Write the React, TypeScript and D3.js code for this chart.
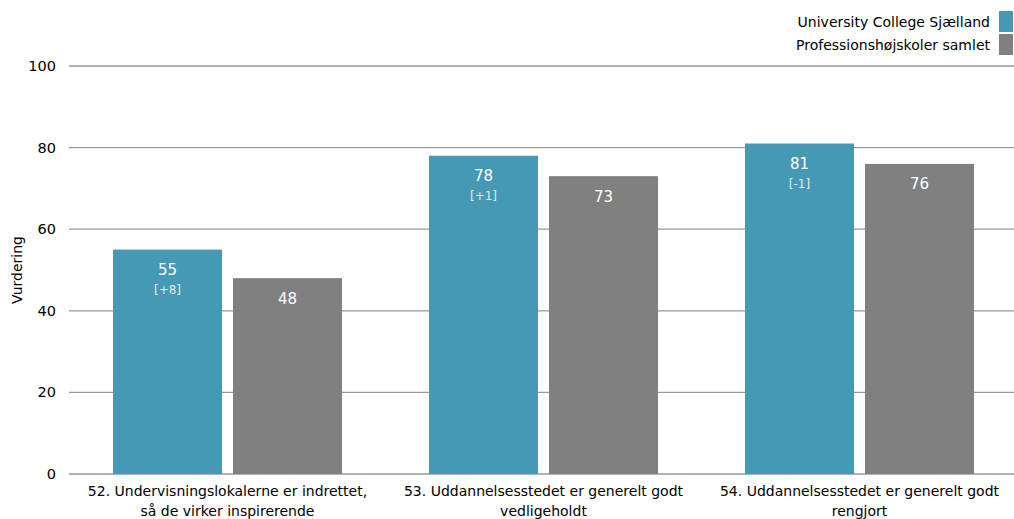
import React from "react";
import * as d3 from "d3";

const categories = [
  ["52. Undervisningslokalerne er indrettet,", "så de virker inspirerende"],
  ["53. Uddannelsesstedet er generelt godt", "vedligeholdt"],
  ["54. Uddannelsesstedet er generelt godt", "rengjort"],
];
const seriesNames = ["University College Sjælland", "Professionshøjskoler samlet"];
const ucsValues = [55, 78, 81];
const ucsDiffs = ["[+8]", "[+1]", "[-1]"];
const totalValues = [48, 73, 76];
const yTicks = [0, 20, 40, 60, 80, 100];
const colors = ["#4599B5", "#808080"];

const W = 1014;
const H = 519;
const FONT = "'DejaVu Sans', Verdana, sans-serif";

export default function App() {
  const x = d3.scaleBand<number>().domain([0, 1, 2]).range([69.5, 1017.5]);
  const y = d3.scaleLinear().domain([0, 100]).range([474, 66]);
  const barW = 109;
  const gap = 11;

  return (
    <svg width={W} height={H} style={{ position: "absolute", left: 0, top: 0, fontFamily: FONT }}>
      {yTicks.map((t) => (
        <g key={t}>
          <line x1={69} x2={W} y1={y(t)} y2={y(t)} stroke="#9a9a9a" strokeWidth={1.3} />
          <text x={56} y={y(t)} dy="0.35em" textAnchor="end" fontSize={14.5} fill="#000">
            {t}
          </text>
        </g>
      ))}
      <text transform={`translate(22,${y(50)}) rotate(-90)`} textAnchor="middle" fontSize={14} fill="#000">
        Vurdering
      </text>
      {categories.map((c, i) => {
        const cx = (x(i) as number) + x.bandwidth() / 2;
        const bx0 = cx - gap / 2 - barW;
        const bx1 = cx + gap / 2;
        return (
          <g key={i}>
            <rect x={bx0} y={y(ucsValues[i])} width={barW} height={y(0) - y(ucsValues[i])} fill={colors[0]} />
            <rect x={bx1} y={y(totalValues[i])} width={barW} height={y(0) - y(totalValues[i])} fill={colors[1]} />
            <text x={bx0 + barW / 2} y={y(ucsValues[i]) + 25} textAnchor="middle" fontSize={15} fill="#fff">
              {ucsValues[i]}
            </text>
            <text x={bx0 + barW / 2} y={y(ucsValues[i]) + 44} textAnchor="middle" fontSize={12} fill="#e8e8e8">
              {ucsDiffs[i]}
            </text>
            <text x={bx1 + barW / 2} y={y(totalValues[i]) + 25.5} textAnchor="middle" fontSize={15} fill="#fff">
              {totalValues[i]}
            </text>
            {c.map((line, k) => (
              <text key={k} x={cx} y={496 + k * 20} textAnchor="middle" fontSize={14} fill="#000">
                {line}
              </text>
            ))}
          </g>
        );
      })}
      {seriesNames.map((s, i) => (
        <g key={s}>
          <rect x={999} y={11 + i * 23} width={14} height={21} fill={colors[i]} />
          <text x={990} y={22 + i * 23} dy="0.35em" textAnchor="end" fontSize={14} fill="#000">
            {s}
          </text>
        </g>
      ))}
    </svg>
  );
}
